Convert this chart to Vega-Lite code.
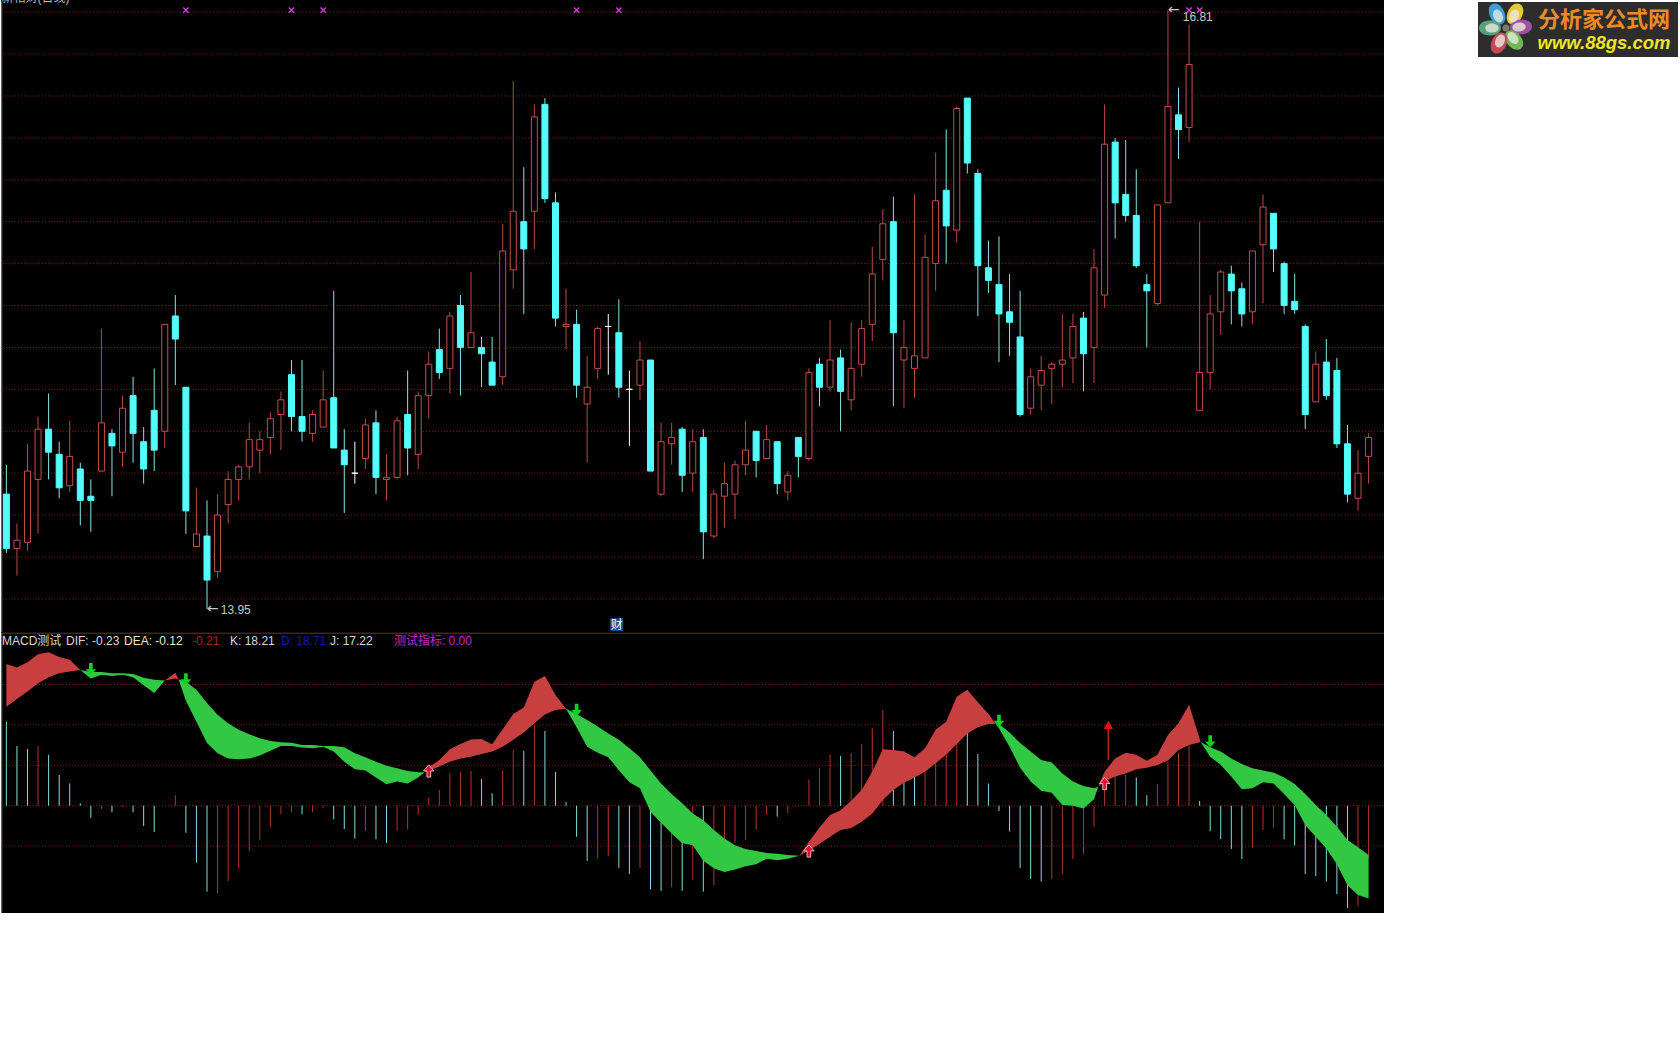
{
"$schema":"https://vega.github.io/schema/vega-lite/v6.json",
"background":"#ffffff","padding":0,"spacing":93,
"config":{"view":{"stroke":null},"text":{"font":"Liberation Sans, Noto Sans CJK SC","fontSize":12}},
"datasets":{
"candles":[
{"i":0,"open":14.5,"high":14.64,"low":14.22,"close":14.24},{"i":1,"open":14.24,"high":14.36,"low":14.11,"close":14.28},{"i":2,"open":14.27,"high":14.74,"low":14.23,"close":14.61},{"i":3,"open":14.57,"high":14.87,"low":14.31,"close":14.81},{"i":4,"open":14.81,"high":14.98,"low":14.57,"close":14.7},{"i":5,"open":14.69,"high":14.75,"low":14.48,"close":14.53},{"i":6,"open":14.54,"high":14.85,"low":14.51,"close":14.68},{"i":7,"open":14.62,"high":14.65,"low":14.35,"close":14.47},{"i":8,"open":14.49,"high":14.57,"low":14.32,"close":14.47},{"i":9,"open":14.61,"high":15.29,"low":14.61,"close":14.84},
{"i":10,"open":14.79,"high":14.81,"low":14.49,"close":14.73},{"i":11,"open":14.7,"high":14.97,"low":14.63,"close":14.91},{"i":12,"open":14.97,"high":15.06,"low":14.65,"close":14.79},{"i":13,"open":14.75,"high":14.82,"low":14.55,"close":14.62},{"i":14,"open":14.9,"high":15.1,"low":14.61,"close":14.71},{"i":15,"open":14.8,"high":15.31,"low":14.72,"close":15.31},{"i":16,"open":15.35,"high":15.45,"low":15.02,"close":15.24},{"i":17,"open":15.01,"high":15.01,"low":14.31,"close":14.42},{"i":18,"open":14.25,"high":14.53,"low":14.25,"close":14.31},{"i":19,"open":14.3,"high":14.47,"low":13.95,"close":14.09},
{"i":20,"open":14.13,"high":14.5,"low":14.1,"close":14.4},{"i":21,"open":14.45,"high":14.61,"low":14.36,"close":14.57},{"i":22,"open":14.57,"high":14.64,"low":14.47,"close":14.63},{"i":23,"open":14.63,"high":14.84,"low":14.57,"close":14.76},{"i":24,"open":14.71,"high":14.8,"low":14.6,"close":14.76},{"i":25,"open":14.77,"high":14.89,"low":14.69,"close":14.86},{"i":26,"open":14.88,"high":14.99,"low":14.71,"close":14.95},{"i":27,"open":15.07,"high":15.14,"low":14.8,"close":14.87},{"i":28,"open":14.87,"high":15.14,"low":14.75,"close":14.8},{"i":29,"open":14.79,"high":14.9,"low":14.75,"close":14.88},
{"i":30,"open":14.82,"high":15.09,"low":14.82,"close":14.95},{"i":31,"open":14.96,"high":15.47,"low":14.72,"close":14.72},{"i":32,"open":14.71,"high":14.81,"low":14.41,"close":14.64},{"i":33,"open":14.6,"high":14.75,"low":14.55,"close":14.6},{"i":34,"open":14.67,"high":14.86,"low":14.62,"close":14.83},{"i":35,"open":14.84,"high":14.9,"low":14.5,"close":14.58},{"i":36,"open":14.57,"high":14.69,"low":14.47,"close":14.58},{"i":37,"open":14.58,"high":14.87,"low":14.57,"close":14.85},{"i":38,"open":14.88,"high":15.09,"low":14.59,"close":14.72},{"i":39,"open":14.69,"high":14.99,"low":14.62,"close":14.97},
{"i":40,"open":14.97,"high":15.18,"low":14.86,"close":15.12},{"i":41,"open":15.19,"high":15.29,"low":15.05,"close":15.08},{"i":42,"open":15.1,"high":15.37,"low":14.98,"close":15.35},{"i":43,"open":15.4,"high":15.45,"low":14.97,"close":15.2},{"i":44,"open":15.2,"high":15.56,"low":15.2,"close":15.27},{"i":45,"open":15.2,"high":15.25,"low":15.01,"close":15.17},{"i":46,"open":15.13,"high":15.25,"low":15.02,"close":15.02},{"i":47,"open":15.06,"high":15.79,"low":15.02,"close":15.66},{"i":48,"open":15.57,"high":16.47,"low":15.48,"close":15.85},{"i":49,"open":15.8,"high":16.06,"low":15.36,"close":15.67},
{"i":50,"open":15.85,"high":16.36,"low":15.67,"close":16.3},{"i":51,"open":16.36,"high":16.39,"low":15.89,"close":15.91},{"i":52,"open":15.89,"high":15.94,"low":15.3,"close":15.34},{"i":53,"open":15.3,"high":15.48,"low":15.19,"close":15.31},{"i":54,"open":15.31,"high":15.38,"low":14.96,"close":15.02},{"i":55,"open":14.93,"high":15.16,"low":14.65,"close":15.01},{"i":56,"open":15.1,"high":15.3,"low":15.05,"close":15.29},{"i":57,"open":15.3,"high":15.36,"low":15.07,"close":15.3},{"i":58,"open":15.27,"high":15.43,"low":14.96,"close":15.01},{"i":59,"open":15,"high":15.09,"low":14.73,"close":15},
{"i":60,"open":15.02,"high":15.23,"low":14.95,"close":15.14},{"i":61,"open":15.14,"high":15.14,"low":14.61,"close":14.61},{"i":62,"open":14.5,"high":14.84,"low":14.49,"close":14.75},{"i":63,"open":14.74,"high":14.84,"low":14.64,"close":14.77},{"i":64,"open":14.81,"high":14.82,"low":14.51,"close":14.59},{"i":65,"open":14.6,"high":14.81,"low":14.51,"close":14.75},{"i":66,"open":14.77,"high":14.81,"low":14.19,"close":14.32},{"i":67,"open":14.3,"high":14.52,"low":14.29,"close":14.5},{"i":68,"open":14.49,"high":14.65,"low":14.34,"close":14.55},{"i":69,"open":14.5,"high":14.66,"low":14.38,"close":14.64},
{"i":70,"open":14.64,"high":14.85,"low":14.59,"close":14.71},{"i":71,"open":14.8,"high":14.8,"low":14.58,"close":14.66},{"i":72,"open":14.67,"high":14.83,"low":14.67,"close":14.76},{"i":73,"open":14.75,"high":14.75,"low":14.5,"close":14.55},{"i":74,"open":14.51,"high":14.61,"low":14.47,"close":14.59},{"i":75,"open":14.77,"high":14.77,"low":14.58,"close":14.68},{"i":76,"open":14.67,"high":15.1,"low":14.66,"close":15.08},{"i":77,"open":15.12,"high":15.15,"low":14.92,"close":15.01},{"i":78,"open":15.01,"high":15.33,"low":14.99,"close":15.14},{"i":79,"open":15.15,"high":15.19,"low":14.8,"close":14.99},
{"i":80,"open":14.95,"high":15.32,"low":14.9,"close":15.1},{"i":81,"open":15.12,"high":15.33,"low":15.06,"close":15.29},{"i":82,"open":15.31,"high":15.68,"low":15.23,"close":15.55},{"i":83,"open":15.62,"high":15.86,"low":15.52,"close":15.79},{"i":84,"open":15.8,"high":15.92,"low":14.92,"close":15.27},{"i":85,"open":15.14,"high":15.33,"low":14.91,"close":15.2},{"i":86,"open":15.1,"high":15.93,"low":14.96,"close":15.16},{"i":87,"open":15.15,"high":15.74,"low":15.15,"close":15.63},{"i":88,"open":15.6,"high":16.13,"low":15.47,"close":15.9},{"i":89,"open":15.95,"high":16.24,"low":15.6,"close":15.78},
{"i":90,"open":15.76,"high":16.35,"low":15.7,"close":16.34},{"i":91,"open":16.39,"high":16.39,"low":16.03,"close":16.08},{"i":92,"open":16.03,"high":16.05,"low":15.35,"close":15.59},{"i":93,"open":15.58,"high":15.71,"low":15.46,"close":15.52},{"i":94,"open":15.5,"high":15.73,"low":15.13,"close":15.36},{"i":95,"open":15.37,"high":15.55,"low":15.16,"close":15.32},{"i":96,"open":15.25,"high":15.47,"low":14.87,"close":14.88},{"i":97,"open":14.91,"high":15.1,"low":14.88,"close":15.06},{"i":98,"open":15.02,"high":15.16,"low":14.9,"close":15.09},{"i":99,"open":15.1,"high":15.13,"low":14.93,"close":15.12},
{"i":100,"open":15.12,"high":15.36,"low":15.01,"close":15.14},{"i":101,"open":15.15,"high":15.36,"low":15.03,"close":15.3},{"i":102,"open":15.34,"high":15.37,"low":14.99,"close":15.17},{"i":103,"open":15.2,"high":15.67,"low":15.03,"close":15.58},{"i":104,"open":15.45,"high":16.36,"low":15.39,"close":16.17},{"i":105,"open":16.18,"high":16.2,"low":15.72,"close":15.89},{"i":106,"open":15.93,"high":16.19,"low":15.8,"close":15.83},{"i":107,"open":15.83,"high":16.05,"low":15.58,"close":15.59},{"i":108,"open":15.5,"high":15.55,"low":15.2,"close":15.47},{"i":109,"open":15.41,"high":15.88,"low":15.4,"close":15.88},
{"i":110,"open":15.89,"high":16.81,"low":15.89,"close":16.35},{"i":111,"open":16.31,"high":16.44,"low":16.1,"close":16.24},{"i":112,"open":16.25,"high":16.74,"low":16.18,"close":16.55},{"i":113,"open":14.9,"high":15.8,"low":14.9,"close":15.08},{"i":114,"open":15.08,"high":15.45,"low":15,"close":15.36},{"i":115,"open":15.37,"high":15.57,"low":15.26,"close":15.56},{"i":116,"open":15.55,"high":15.59,"low":15.31,"close":15.47},{"i":117,"open":15.48,"high":15.51,"low":15.3,"close":15.36},{"i":118,"open":15.37,"high":15.66,"low":15.31,"close":15.66},{"i":119,"open":15.69,"high":15.93,"low":15.41,"close":15.87},
{"i":120,"open":15.84,"high":15.84,"low":15.56,"close":15.67},{"i":121,"open":15.6,"high":15.61,"low":15.36,"close":15.4},{"i":122,"open":15.42,"high":15.55,"low":15.36,"close":15.38},{"i":123,"open":15.3,"high":15.31,"low":14.81,"close":14.88},{"i":124,"open":14.94,"high":15.18,"low":14.94,"close":15.12},{"i":125,"open":15.13,"high":15.24,"low":14.95,"close":14.97},{"i":126,"open":15.09,"high":15.15,"low":14.72,"close":14.74},{"i":127,"open":14.74,"high":14.83,"low":14.46,"close":14.5},{"i":128,"open":14.48,"high":14.71,"low":14.42,"close":14.6},{"i":129,"open":14.68,"high":14.79,"low":14.55,"close":14.77}
],
"hist":[
{"i":0,"macd":0.208,"tone":"c"},{"i":1,"macd":0.148,"tone":"c"},{"i":2,"macd":0.14,"tone":"c"},{"i":3,"macd":0.148,"tone":"r"},{"i":4,"macd":0.126,"tone":"c"},{"i":5,"macd":0.076,"tone":"c"},{"i":6,"macd":0.055,"tone":"c"},{"i":7,"macd":0.006,"tone":"c"},{"i":8,"macd":-0.03,"tone":"c"},{"i":9,"macd":-0.008,"tone":"r"},
{"i":10,"macd":-0.016,"tone":"c"},{"i":11,"macd":-0.003,"tone":"r"},{"i":12,"macd":-0.016,"tone":"c"},{"i":13,"macd":-0.05,"tone":"c"},{"i":14,"macd":-0.065,"tone":"c"},{"i":15,"macd":0,"tone":"r"},{"i":16,"macd":0.026,"tone":"r"},{"i":17,"macd":-0.067,"tone":"c"},{"i":18,"macd":-0.141,"tone":"c"},{"i":19,"macd":-0.213,"tone":"c"},
{"i":20,"macd":-0.217,"tone":"r"},{"i":21,"macd":-0.187,"tone":"r"},{"i":22,"macd":-0.155,"tone":"r"},{"i":23,"macd":-0.112,"tone":"r"},{"i":24,"macd":-0.085,"tone":"r"},{"i":25,"macd":-0.052,"tone":"r"},{"i":26,"macd":-0.021,"tone":"r"},{"i":27,"macd":-0.016,"tone":"r"},{"i":28,"macd":-0.021,"tone":"c"},{"i":29,"macd":-0.016,"tone":"r"},
{"i":30,"macd":-0.005,"tone":"r"},{"i":31,"macd":-0.034,"tone":"c"},{"i":32,"macd":-0.058,"tone":"c"},{"i":33,"macd":-0.081,"tone":"c"},{"i":34,"macd":-0.062,"tone":"r"},{"i":35,"macd":-0.083,"tone":"c"},{"i":36,"macd":-0.092,"tone":"c"},{"i":37,"macd":-0.062,"tone":"r"},{"i":38,"macd":-0.059,"tone":"r"},{"i":39,"macd":-0.021,"tone":"r"},
{"i":40,"macd":0.02,"tone":"r"},{"i":41,"macd":0.039,"tone":"r"},{"i":42,"macd":0.08,"tone":"r"},{"i":43,"macd":0.084,"tone":"r"},{"i":44,"macd":0.086,"tone":"r"},{"i":45,"macd":0.066,"tone":"c"},{"i":46,"macd":0.031,"tone":"c"},{"i":47,"macd":0.087,"tone":"r"},{"i":48,"macd":0.138,"tone":"r"},{"i":49,"macd":0.136,"tone":"c"},
{"i":50,"macd":0.199,"tone":"r"},{"i":51,"macd":0.185,"tone":"c"},{"i":52,"macd":0.084,"tone":"c"},{"i":53,"macd":0.009,"tone":"c"},{"i":54,"macd":-0.077,"tone":"c"},{"i":55,"macd":-0.137,"tone":"c"},{"i":56,"macd":-0.131,"tone":"r"},{"i":57,"macd":-0.124,"tone":"r"},{"i":58,"macd":-0.154,"tone":"c"},{"i":59,"macd":-0.169,"tone":"c"},
{"i":60,"macd":-0.154,"tone":"r"},{"i":61,"macd":-0.207,"tone":"c"},{"i":62,"macd":-0.211,"tone":"c"},{"i":63,"macd":-0.202,"tone":"r"},{"i":64,"macd":-0.211,"tone":"c"},{"i":65,"macd":-0.184,"tone":"r"},{"i":66,"macd":-0.213,"tone":"c"},{"i":67,"macd":-0.197,"tone":"r"},{"i":68,"macd":-0.11,"tone":"r"},{"i":69,"macd":-0.092,"tone":"r"},
{"i":70,"macd":-0.085,"tone":"r"},{"i":71,"macd":-0.059,"tone":"r"},{"i":72,"macd":-0.023,"tone":"r"},{"i":73,"macd":-0.027,"tone":"c"},{"i":74,"macd":-0.019,"tone":"r"},{"i":75,"macd":-0.002,"tone":"r"},{"i":76,"macd":0.065,"tone":"r"},{"i":77,"macd":0.093,"tone":"r"},{"i":78,"macd":0.127,"tone":"r"},{"i":79,"macd":0.123,"tone":"c"},
{"i":80,"macd":0.131,"tone":"r"},{"i":81,"macd":0.153,"tone":"r"},{"i":82,"macd":0.192,"tone":"r"},{"i":83,"macd":0.237,"tone":"r"},{"i":84,"macd":0.185,"tone":"c"},{"i":85,"macd":0.134,"tone":"c"},{"i":86,"macd":0.09,"tone":"c"},{"i":87,"macd":0.09,"tone":"r"},{"i":88,"macd":0.12,"tone":"r"},{"i":89,"macd":0.126,"tone":"r"},
{"i":90,"macd":0.155,"tone":"r"},{"i":91,"macd":0.181,"tone":"c"},{"i":92,"macd":0.128,"tone":"c"},{"i":93,"macd":0.055,"tone":"c"},{"i":94,"macd":-0.013,"tone":"c"},{"i":95,"macd":-0.064,"tone":"c"},{"i":96,"macd":-0.154,"tone":"c"},{"i":97,"macd":-0.181,"tone":"c"},{"i":98,"macd":-0.188,"tone":"c"},{"i":99,"macd":-0.182,"tone":"r"},
{"i":100,"macd":-0.169,"tone":"r"},{"i":101,"macd":-0.132,"tone":"r"},{"i":102,"macd":-0.118,"tone":"r"},{"i":103,"macd":-0.052,"tone":"r"},{"i":104,"macd":0.05,"tone":"r"},{"i":105,"macd":0.08,"tone":"r"},{"i":106,"macd":0.076,"tone":"r"},{"i":107,"macd":0.07,"tone":"c"},{"i":108,"macd":0.026,"tone":"c"},{"i":109,"macd":0.053,"tone":"r"},
{"i":110,"macd":0.109,"tone":"r"},{"i":111,"macd":0.131,"tone":"r"},{"i":112,"macd":0.15,"tone":"r"},{"i":113,"macd":0.012,"tone":"c"},{"i":114,"macd":-0.063,"tone":"c"},{"i":115,"macd":-0.083,"tone":"c"},{"i":116,"macd":-0.107,"tone":"c"},{"i":117,"macd":-0.132,"tone":"c"},{"i":118,"macd":-0.104,"tone":"r"},{"i":119,"macd":-0.06,"tone":"r"},
{"i":120,"macd":-0.054,"tone":"r"},{"i":121,"macd":-0.083,"tone":"c"},{"i":122,"macd":-0.099,"tone":"c"},{"i":123,"macd":-0.169,"tone":"c"},{"i":124,"macd":-0.174,"tone":"c"},{"i":125,"macd":-0.188,"tone":"c"},{"i":126,"macd":-0.219,"tone":"c"},{"i":127,"macd":-0.253,"tone":"c"},{"i":128,"macd":-0.249,"tone":"r"},{"i":129,"macd":-0.13,"tone":"r"}
],
"band":[
{"seg":1,"sign":"up","i":0,"dif":0.351,"dea":0.245},{"seg":1,"sign":"up","i":1,"dif":0.342,"dea":0.264},{"seg":1,"sign":"up","i":2,"dif":0.355,"dea":0.283},{"seg":1,"sign":"up","i":3,"dif":0.375,"dea":0.303},{"seg":1,"sign":"up","i":4,"dif":0.38,"dea":0.318},{"seg":1,"sign":"up","i":5,"dif":0.368,"dea":0.328},{"seg":1,"sign":"up","i":6,"dif":0.361,"dea":0.332},{"seg":1,"sign":"up","i":7,"dif":0.336,"dea":0.336},
{"seg":2,"sign":"down","i":7,"dif":0.336,"dea":0.336},{"seg":2,"sign":"down","i":8,"dif":0.315,"dea":0.331},{"seg":2,"sign":"down","i":9,"dif":0.324,"dea":0.331},{"seg":2,"sign":"down","i":10,"dif":0.321,"dea":0.328},{"seg":2,"sign":"down","i":11,"dif":0.324,"dea":0.328},{"seg":2,"sign":"down","i":12,"dif":0.318,"dea":0.326},{"seg":2,"sign":"down","i":13,"dif":0.298,"dea":0.317},{"seg":2,"sign":"down","i":14,"dif":0.279,"dea":0.312},{"seg":2,"sign":"down","i":15,"dif":0.31,"dea":0.31},
{"seg":3,"sign":"up","i":15,"dif":0.31,"dea":0.31},{"seg":3,"sign":"up","i":16,"dif":0.329,"dea":0.315},{"seg":3,"sign":"up","i":16.3,"dif":0.313,"dea":0.313},
{"seg":4,"sign":"down","i":16.3,"dif":0.313,"dea":0.313},{"seg":4,"sign":"down","i":17,"dif":0.26,"dea":0.307},{"seg":4,"sign":"down","i":18,"dif":0.208,"dea":0.287},{"seg":4,"sign":"down","i":19,"dif":0.155,"dea":0.254},{"seg":4,"sign":"down","i":20,"dif":0.13,"dea":0.225},{"seg":4,"sign":"down","i":21,"dif":0.117,"dea":0.204},{"seg":4,"sign":"down","i":22,"dif":0.115,"dea":0.188},{"seg":4,"sign":"down","i":23,"dif":0.117,"dea":0.177},{"seg":4,"sign":"down","i":24,"dif":0.124,"dea":0.167},{"seg":4,"sign":"down","i":25,"dif":0.136,"dea":0.16},{"seg":4,"sign":"down","i":26,"dif":0.148,"dea":0.157},{"seg":4,"sign":"down","i":27,"dif":0.148,"dea":0.156},{"seg":4,"sign":"down","i":28,"dif":0.144,"dea":0.15},{"seg":4,"sign":"down","i":29,"dif":0.142,"dea":0.15},{"seg":4,"sign":"down","i":30,"dif":0.146,"dea":0.148},{"seg":4,"sign":"down","i":31,"dif":0.134,"dea":0.148},{"seg":4,"sign":"down","i":32,"dif":0.109,"dea":0.145},{"seg":4,"sign":"down","i":33,"dif":0.09,"dea":0.13},{"seg":4,"sign":"down","i":34,"dif":0.087,"dea":0.12},{"seg":4,"sign":"down","i":35,"dif":0.07,"dea":0.109},{"seg":4,"sign":"down","i":36,"dif":0.053,"dea":0.099},{"seg":4,"sign":"down","i":37,"dif":0.06,"dea":0.093},{"seg":4,"sign":"down","i":38,"dif":0.055,"dea":0.086},{"seg":4,"sign":"down","i":39,"dif":0.07,"dea":0.083},{"seg":4,"sign":"down","i":39.6,"dif":0.083,"dea":0.083},
{"seg":5,"sign":"up","i":39.6,"dif":0.083,"dea":0.083},{"seg":5,"sign":"up","i":40,"dif":0.095,"dea":0.087},{"seg":5,"sign":"up","i":41,"dif":0.113,"dea":0.097},{"seg":5,"sign":"up","i":42,"dif":0.14,"dea":0.109},{"seg":5,"sign":"up","i":43,"dif":0.153,"dea":0.117},{"seg":5,"sign":"up","i":44,"dif":0.164,"dea":0.121},{"seg":5,"sign":"up","i":45,"dif":0.165,"dea":0.128},{"seg":5,"sign":"up","i":46,"dif":0.152,"dea":0.134},{"seg":5,"sign":"up","i":47,"dif":0.189,"dea":0.146},{"seg":5,"sign":"up","i":48,"dif":0.227,"dea":0.163},{"seg":5,"sign":"up","i":49,"dif":0.243,"dea":0.181},{"seg":5,"sign":"up","i":50,"dif":0.307,"dea":0.204},{"seg":5,"sign":"up","i":51,"dif":0.321,"dea":0.226},{"seg":5,"sign":"up","i":52,"dif":0.274,"dea":0.237},{"seg":5,"sign":"up","i":53,"dif":0.24,"dea":0.24},
{"seg":6,"sign":"down","i":53,"dif":0.24,"dea":0.24},{"seg":6,"sign":"down","i":54,"dif":0.194,"dea":0.227},{"seg":6,"sign":"down","i":55,"dif":0.146,"dea":0.212},{"seg":6,"sign":"down","i":56,"dif":0.131,"dea":0.196},{"seg":6,"sign":"down","i":57,"dif":0.12,"dea":0.179},{"seg":6,"sign":"down","i":58,"dif":0.088,"dea":0.163},{"seg":6,"sign":"down","i":59,"dif":0.058,"dea":0.142},{"seg":6,"sign":"down","i":60,"dif":0.043,"dea":0.12},{"seg":6,"sign":"down","i":61,"dif":-0.015,"dea":0.087},{"seg":6,"sign":"down","i":62,"dif":-0.042,"dea":0.055},{"seg":6,"sign":"down","i":63,"dif":-0.069,"dea":0.029},{"seg":6,"sign":"down","i":64,"dif":-0.093,"dea":0.006},{"seg":6,"sign":"down","i":65,"dif":-0.098,"dea":-0.019},{"seg":6,"sign":"down","i":66,"dif":-0.136,"dea":-0.036},{"seg":6,"sign":"down","i":67,"dif":-0.155,"dea":-0.06},{"seg":6,"sign":"down","i":68,"dif":-0.164,"dea":-0.081},{"seg":6,"sign":"down","i":69,"dif":-0.158,"dea":-0.098},{"seg":6,"sign":"down","i":70,"dif":-0.15,"dea":-0.107},{"seg":6,"sign":"down","i":71,"dif":-0.145,"dea":-0.112},{"seg":6,"sign":"down","i":72,"dif":-0.131,"dea":-0.117},{"seg":6,"sign":"down","i":73,"dif":-0.135,"dea":-0.119},{"seg":6,"sign":"down","i":74,"dif":-0.131,"dea":-0.122},{"seg":6,"sign":"down","i":75.1,"dif":-0.124,"dea":-0.124},
{"seg":7,"sign":"up","i":75.1,"dif":-0.124,"dea":-0.124},{"seg":7,"sign":"up","i":76,"dif":-0.089,"dea":-0.11},{"seg":7,"sign":"up","i":77,"dif":-0.054,"dea":-0.095},{"seg":7,"sign":"up","i":78,"dif":-0.023,"dea":-0.077},{"seg":7,"sign":"up","i":79,"dif":-0.011,"dea":-0.06},{"seg":7,"sign":"up","i":80,"dif":0.012,"dea":-0.055},{"seg":7,"sign":"up","i":81,"dif":0.039,"dea":-0.04},{"seg":7,"sign":"up","i":82,"dif":0.084,"dea":-0.019},{"seg":7,"sign":"up","i":83,"dif":0.14,"dea":0.014},{"seg":7,"sign":"up","i":84,"dif":0.138,"dea":0.039},{"seg":7,"sign":"up","i":85,"dif":0.134,"dea":0.057},{"seg":7,"sign":"up","i":86,"dif":0.12,"dea":0.07},{"seg":7,"sign":"up","i":87,"dif":0.142,"dea":0.084},{"seg":7,"sign":"up","i":88,"dif":0.188,"dea":0.105},{"seg":7,"sign":"up","i":89,"dif":0.208,"dea":0.126},{"seg":7,"sign":"up","i":90,"dif":0.27,"dea":0.153},{"seg":7,"sign":"up","i":91,"dif":0.287,"dea":0.179},{"seg":7,"sign":"up","i":92,"dif":0.256,"dea":0.194},{"seg":7,"sign":"up","i":93,"dif":0.227,"dea":0.202},{"seg":7,"sign":"up","i":93.7,"dif":0.202,"dea":0.202},
{"seg":8,"sign":"down","i":93.7,"dif":0.202,"dea":0.202},{"seg":8,"sign":"down","i":94,"dif":0.192,"dea":0.202},{"seg":8,"sign":"down","i":95,"dif":0.146,"dea":0.181},{"seg":8,"sign":"down","i":96,"dif":0.094,"dea":0.155},{"seg":8,"sign":"down","i":97,"dif":0.06,"dea":0.134},{"seg":8,"sign":"down","i":98,"dif":0.037,"dea":0.113},{"seg":8,"sign":"down","i":99,"dif":0.032,"dea":0.107},{"seg":8,"sign":"down","i":100,"dif":0.002,"dea":0.08},{"seg":8,"sign":"down","i":101,"dif":0,"dea":0.06},{"seg":8,"sign":"down","i":102,"dif":-0.007,"dea":0.049},{"seg":8,"sign":"down","i":103,"dif":0.016,"dea":0.043},{"seg":8,"sign":"down","i":103.4,"dif":0.047,"dea":0.047},
{"seg":9,"sign":"up","i":103.4,"dif":0.047,"dea":0.047},{"seg":9,"sign":"up","i":104,"dif":0.084,"dea":0.06},{"seg":9,"sign":"up","i":105,"dif":0.117,"dea":0.072},{"seg":9,"sign":"up","i":106,"dif":0.131,"dea":0.08},{"seg":9,"sign":"up","i":107,"dif":0.126,"dea":0.09},{"seg":9,"sign":"up","i":108,"dif":0.111,"dea":0.094},{"seg":9,"sign":"up","i":109,"dif":0.126,"dea":0.101},{"seg":9,"sign":"up","i":110,"dif":0.175,"dea":0.112},{"seg":9,"sign":"up","i":111,"dif":0.204,"dea":0.138},{"seg":9,"sign":"up","i":112,"dif":0.25,"dea":0.15},{"seg":9,"sign":"up","i":113.1,"dif":0.158,"dea":0.158},
{"seg":10,"sign":"down","i":113.1,"dif":0.158,"dea":0.158},{"seg":10,"sign":"down","i":114,"dif":0.121,"dea":0.145},{"seg":10,"sign":"down","i":115,"dif":0.101,"dea":0.134},{"seg":10,"sign":"down","i":116,"dif":0.072,"dea":0.117},{"seg":10,"sign":"down","i":117,"dif":0.041,"dea":0.103},{"seg":10,"sign":"down","i":118,"dif":0.043,"dea":0.093},{"seg":10,"sign":"down","i":119,"dif":0.058,"dea":0.087},{"seg":10,"sign":"down","i":120,"dif":0.055,"dea":0.082},{"seg":10,"sign":"down","i":121,"dif":0.029,"dea":0.07},{"seg":10,"sign":"down","i":122,"dif":0.002,"dea":0.054},{"seg":10,"sign":"down","i":123,"dif":-0.048,"dea":0.029},{"seg":10,"sign":"down","i":124,"dif":-0.077,"dea":0.002},{"seg":10,"sign":"down","i":125,"dif":-0.106,"dea":-0.023},{"seg":10,"sign":"down","i":126,"dif":-0.145,"dea":-0.052},{"seg":10,"sign":"down","i":127,"dif":-0.197,"dea":-0.085},{"seg":10,"sign":"down","i":128,"dif":-0.221,"dea":-0.103},{"seg":10,"sign":"down","i":129,"dif":-0.23,"dea":-0.122}
]
},
"hconcat":[
{"vconcat":[
{"width":1383,"height":632,"view":{"fill":"#000000","stroke":null},
"layer":[
{"data":{"values":[{"price":14},{"price":14.2},{"price":14.4},{"price":14.6},{"price":14.8},{"price":15},{"price":15.2},{"price":15.4},{"price":15.6},{"price":15.8},{"price":16},{"price":16.2},{"price":16.4},{"price":16.6},{"price":16.8}]},
"mark":{"type":"rule","stroke":"#741c1c","strokeWidth":1,"strokeDash":[1,2]},
"encoding":{
"y":{"field":"price","type":"quantitative","scale":{"domain":[13.842,16.858],"nice":false,"zero":false},"axis":null}}},
{"data":{"name":"candles"},"mark":{"type":"rule","strokeWidth":1},
"encoding":{
"x":{"field":"i","type":"quantitative","scale":{"domain":[-0.508,130.46],"nice":false,"zero":false,"padding":0},"axis":null},
"y":{"field":"high","type":"quantitative","scale":{"domain":[13.842,16.858],"nice":false,"zero":false},"axis":null},
"y2":{"field":"low"},
"stroke":{"condition":[{"test":"datum.close>datum.open","value":"#b84848"},{"test":"datum.close==datum.open","value":"#ffffff"}],"value":"#8ae4e4"}}},
{"data":{"name":"candles"},"mark":{"type":"bar","size":6,"strokeWidth":1,"orient":"vertical"},
"encoding":{
"x":{"field":"i","type":"quantitative","scale":{"domain":[-0.508,130.46],"nice":false,"zero":false,"padding":0},"axis":null},
"y":{"field":"open","type":"quantitative","scale":{"domain":[13.842,16.858],"nice":false,"zero":false},"axis":null},
"y2":{"field":"close"},
"fill":{"condition":[{"test":"datum.close>datum.open","value":"#000000"},{"test":"datum.close==datum.open","value":"#ffffff"}],"value":"#54fcfc"},
"stroke":{"condition":[{"test":"datum.close>datum.open","value":"#c84c4c"},{"test":"datum.close==datum.open","value":"#ffffff"}],"value":"#54fcfc"}}},
{"data":{"values":[{"i":17,"price":16.81},{"i":27,"price":16.81},{"i":30,"price":16.81},{"i":54,"price":16.81},{"i":58,"price":16.81},{"i":112,"price":16.81},{"i":113,"price":16.81}]},
"mark":{"type":"point","shape":"M-1,-1L1,1M1,-1L-1,1","size":28,"stroke":"#d038d0","strokeWidth":1.5,"filled":false,"opacity":1},
"encoding":{
"x":{"field":"i","type":"quantitative","scale":{"domain":[-0.508,130.46],"nice":false,"zero":false,"padding":0},"axis":null},
"y":{"field":"price","type":"quantitative","scale":{"domain":[13.842,16.858],"nice":false,"zero":false},"axis":null}}},
{"data":{"values":[{"i":57.8,"price":13.877}]},
"mark":{"type":"point","shape":"square","size":170,"filled":true,"fill":"#1c4a86","opacity":1},
"encoding":{
"x":{"field":"i","type":"quantitative","scale":{"domain":[-0.508,130.46],"nice":false,"zero":false,"padding":0},"axis":null},
"y":{"field":"price","type":"quantitative","scale":{"domain":[13.842,16.858],"nice":false,"zero":false},"axis":null}}},
{"data":{"values":[{"i":19,"price":13.95,"label":"←"},{"i":110,"price":16.81,"label":"←"}]},
"mark":{"type":"text","align":"left","baseline":"middle","color":"#c8c8c8","font":"DejaVu Sans","fontSize":14},
"encoding":{
"x":{"field":"i","type":"quantitative","scale":{"domain":[-0.508,130.46],"nice":false,"zero":false,"padding":0},"axis":null},
"y":{"field":"price","type":"quantitative","scale":{"domain":[13.842,16.858],"nice":false,"zero":false},"axis":null},
"text":{"field":"label"}}},
{"data":{"values":[{"i":20.3,"price":13.945,"label":"13.95"},{"i":111.4,"price":16.775,"label":"16.81"}]},
"mark":{"type":"text","align":"left","baseline":"middle","color":"#c8c8c8"},
"encoding":{
"x":{"field":"i","type":"quantitative","scale":{"domain":[-0.508,130.46],"nice":false,"zero":false,"padding":0},"axis":null},
"y":{"field":"price","type":"quantitative","scale":{"domain":[13.842,16.858],"nice":false,"zero":false},"axis":null},
"text":{"field":"label"}}},
{"data":{"values":[{"i":57.8,"price":13.877,"label":"财"}]},
"mark":{"type":"text","align":"center","baseline":"middle","color":"#ffffff"},
"encoding":{
"x":{"field":"i","type":"quantitative","scale":{"domain":[-0.508,130.46],"nice":false,"zero":false,"padding":0},"axis":null},
"y":{"field":"price","type":"quantitative","scale":{"domain":[13.842,16.858],"nice":false,"zero":false},"axis":null},
"text":{"field":"label"}}},
{"data":{"values":[{"i":-0.45,"price":16.835,"label":"新相财(日线)"}]},
"mark":{"type":"text","align":"left","baseline":"bottom","color":"#b8b8b8","clip":true},
"encoding":{
"x":{"field":"i","type":"quantitative","scale":{"domain":[-0.508,130.46],"nice":false,"zero":false,"padding":0},"axis":null},
"y":{"field":"price","type":"quantitative","scale":{"domain":[13.842,16.858],"nice":false,"zero":false},"axis":null},
"text":{"field":"label"}}},
{"data":{"values":[{"i":-0.44,"a":13.842,"b":16.85}]},
"mark":{"type":"rule","stroke":"#808080","strokeWidth":1},
"encoding":{
"x":{"field":"i","type":"quantitative","scale":{"domain":[-0.508,130.46],"nice":false,"zero":false,"padding":0},"axis":null},
"y":{"field":"a","type":"quantitative","scale":{"domain":[13.842,16.858],"nice":false,"zero":false},"axis":null},
"y2":{"field":"b"}}}
]},
{"width":1383,"height":281,"view":{"fill":"#000000","stroke":null},
"layer":[
{"data":{"values":[{"macd":-0.1},{"macd":0},{"macd":0.1},{"macd":0.2},{"macd":0.3}]},
"mark":{"type":"rule","stroke":"#741c1c","strokeWidth":1,"strokeDash":[1,2]},
"encoding":{
"y":{"field":"macd","type":"quantitative","scale":{"domain":[-0.2656,0.43],"nice":false,"zero":false},"axis":null}}},
{"data":{"name":"hist"},"mark":{"type":"rule","strokeWidth":1},
"encoding":{
"x":{"field":"i","type":"quantitative","scale":{"domain":[-0.508,130.46],"nice":false,"zero":false,"padding":0},"axis":null},
"y":{"field":"macd","type":"quantitative","scale":{"domain":[-0.2656,0.43],"nice":false,"zero":false},"axis":null},
"y2":{"datum":0},
"stroke":{"field":"tone","type":"nominal","scale":{"domain":["c","r"],"range":["#84dcdc","#b83030"]},"legend":null}}},
{"data":{"name":"band"},"mark":{"type":"area","interpolate":"linear"},
"encoding":{
"x":{"field":"i","type":"quantitative","scale":{"domain":[-0.508,130.46],"nice":false,"zero":false,"padding":0},"axis":null},
"y":{"field":"dif","type":"quantitative","scale":{"domain":[-0.2656,0.43],"nice":false,"zero":false},"axis":null},
"y2":{"field":"dea"},
"detail":{"field":"seg","type":"nominal"},
"fill":{"field":"sign","type":"nominal","scale":{"domain":["up","down"],"range":["#c83f40","#33c843"]},"legend":null}}},
{"data":{"values":[{"i":8,"macd":0.338},{"i":17,"macd":0.313},{"i":54,"macd":0.237},{"i":94,"macd":0.21},{"i":114,"macd":0.159}]},
"mark":{"type":"point","shape":"M-0.3,-1L0.3,-1L0.3,0L0.85,0L0,1L-0.85,0L-0.3,0Z","size":150,"filled":true,"fill":"#10d020","opacity":1},
"encoding":{
"x":{"field":"i","type":"quantitative","scale":{"domain":[-0.508,130.46],"nice":false,"zero":false,"padding":0},"axis":null},
"y":{"field":"macd","type":"quantitative","scale":{"domain":[-0.2656,0.43],"nice":false,"zero":false},"axis":null}}},
{"data":{"values":[{"i":40,"macd":0.086},{"i":76,"macd":-0.112},{"i":104,"macd":0.055}]},
"mark":{"type":"point","shape":"M-0.3,1L0.3,1L0.3,0L0.85,0L0,-1L-0.85,0L-0.3,0Z","size":150,"filled":true,"fill":"#e01030","stroke":"#f0b0b0","strokeWidth":1,"opacity":1},
"encoding":{
"x":{"field":"i","type":"quantitative","scale":{"domain":[-0.508,130.46],"nice":false,"zero":false,"padding":0},"axis":null},
"y":{"field":"macd","type":"quantitative","scale":{"domain":[-0.2656,0.43],"nice":false,"zero":false},"axis":null}}},
{"data":{"values":[{"i":104.35,"a":0.113,"b":0.204}]},
"mark":{"type":"rule","stroke":"#c02020","strokeWidth":1.5},
"encoding":{
"x":{"field":"i","type":"quantitative","scale":{"domain":[-0.508,130.46],"nice":false,"zero":false,"padding":0},"axis":null},
"y":{"field":"a","type":"quantitative","scale":{"domain":[-0.2656,0.43],"nice":false,"zero":false},"axis":null},
"y2":{"field":"b"}}},
{"data":{"values":[{"i":104.35,"macd":0.2}]},
"mark":{"type":"point","shape":"triangle-up","size":90,"filled":true,"fill":"#e01010","opacity":1},
"encoding":{
"x":{"field":"i","type":"quantitative","scale":{"domain":[-0.508,130.46],"nice":false,"zero":false,"padding":0},"axis":null},
"y":{"field":"macd","type":"quantitative","scale":{"domain":[-0.2656,0.43],"nice":false,"zero":false},"axis":null}}},
{"data":{"values":[{"i":-0.508,"i2":130.46,"macd":0.427}]},
"mark":{"type":"rule","stroke":"#8a2525","strokeWidth":1},
"encoding":{
"x":{"field":"i","type":"quantitative","scale":{"domain":[-0.508,130.46],"nice":false,"zero":false,"padding":0},"axis":null},
"x2":{"field":"i2"},
"y":{"field":"macd","type":"quantitative","scale":{"domain":[-0.2656,0.43],"nice":false,"zero":false},"axis":null}}},
{"data":{"values":[{"i":-0.44,"a":-0.2656,"b":0.428}]},
"mark":{"type":"rule","stroke":"#808080","strokeWidth":1},
"encoding":{
"x":{"field":"i","type":"quantitative","scale":{"domain":[-0.508,130.46],"nice":false,"zero":false,"padding":0},"axis":null},
"y":{"field":"a","type":"quantitative","scale":{"domain":[-0.2656,0.43],"nice":false,"zero":false},"axis":null},
"y2":{"field":"b"}}},
{"data":{"values":[
{"i":-0.41,"macd":0.408,"label":"MACD测试","key":"a"},
{"i":5.65,"macd":0.408,"label":"DIF: -0.23","key":"a"},
{"i":11.14,"macd":0.408,"label":"DEA: -0.12","key":"b"},
{"i":17.58,"macd":0.408,"label":"-0.21","key":"c"},
{"i":21.18,"macd":0.408,"label":"K: 18.21","key":"a"},
{"i":26,"macd":0.408,"label":"D: 18.71","key":"d"},
{"i":30.65,"macd":0.408,"label":"J: 17.22","key":"a"},
{"i":36.7,"macd":0.408,"label":"测试指标: 0.00","key":"e"}]},
"mark":{"type":"text","align":"left","baseline":"middle"},
"encoding":{
"x":{"field":"i","type":"quantitative","scale":{"domain":[-0.508,130.46],"nice":false,"zero":false,"padding":0},"axis":null},
"y":{"field":"macd","type":"quantitative","scale":{"domain":[-0.2656,0.43],"nice":false,"zero":false},"axis":null},
"text":{"field":"label"},
"color":{"field":"key","type":"nominal","scale":{"domain":["a","b","c","d","e"],"range":["#d8d8d8","#e8e8c0","#a02424","#1818a8","#c028d0"]},"legend":null}}}
],"resolve":{"scale":{"color":"independent","stroke":"independent"}}}
],"spacing":0,"bounds":"flush"},
{"width":200,"height":57,"view":{"fill":null,"stroke":null},
"layer":[
{"data":{"values":[{"a":0,"b":200,"c":2,"d":57}]},"mark":{"type":"rect","fill":"#2d2d2d"},
"encoding":{
"x":{"field":"a","type":"quantitative","scale":{"domain":[0,200],"nice":false},"axis":null},"x2":{"field":"b"},
"y":{"field":"c","type":"quantitative","scale":{"domain":[57,0],"nice":false,"zero":false},"axis":null},"y2":{"field":"d"}}},
{"data":{"values":[{"a":19,"b":14,"p":"blue","rot":-25},{"a":37,"b":14,"p":"yellow","rot":25},{"a":43,"b":27,"p":"purple","rot":85},{"a":36,"b":40,"p":"green","rot":140},{"a":21,"b":43,"p":"red","rot":205},{"a":12,"b":28,"p":"teal","rot":270}]},
"mark":{"type":"point","shape":"M0,-1C0.9,-1 0.9,1 0,1C-0.9,1 -0.9,-1 0,-1Z","filled":true,"size":484,"opacity":1},
"encoding":{
"x":{"field":"a","type":"quantitative","scale":{"domain":[0,200],"nice":false},"axis":null},
"y":{"field":"b","type":"quantitative","scale":{"domain":[57,0],"nice":false,"zero":false},"axis":null},
"angle":{"field":"rot","type":"quantitative","scale":null},
"fill":{"field":"p","type":"nominal","scale":{"domain":["blue","yellow","purple","green","red","teal"],"range":["#3aa0d8","#e8c838","#a050a0","#70b850","#c84858","#58a078"]},"legend":null}}},
{"data":{"values":[{"a":20,"b":16,"rot":-25},{"a":36,"b":16,"rot":25},{"a":41,"b":27,"rot":85},{"a":35,"b":38,"rot":140},{"a":22,"b":41,"rot":205},{"a":14,"b":28,"rot":270}]},
"mark":{"type":"point","shape":"M0,-1C0.9,-1 0.9,1 0,1C-0.9,1 -0.9,-1 0,-1Z","filled":true,"size":180,"fill":"#e8e8e0","opacity":0.8},
"encoding":{
"x":{"field":"a","type":"quantitative","scale":{"domain":[0,200],"nice":false},"axis":null},
"y":{"field":"b","type":"quantitative","scale":{"domain":[57,0],"nice":false,"zero":false},"axis":null},
"angle":{"field":"rot","type":"quantitative","scale":null}}},
{"data":{"values":[{"a":28,"b":28}]},
"mark":{"type":"point","shape":"circle","filled":true,"size":50,"fill":"#807868","opacity":1},
"encoding":{
"x":{"field":"a","type":"quantitative","scale":{"domain":[0,200],"nice":false},"axis":null},
"y":{"field":"b","type":"quantitative","scale":{"domain":[57,0],"nice":false,"zero":false},"axis":null}}},
{"data":{"values":[{"a":126,"b":20,"t":"分析家公式网"}]},
"mark":{"type":"text","align":"center","baseline":"middle","fontSize":22,"fontWeight":"bold","color":"#ee8a24","font":"Noto Sans CJK SC"},
"encoding":{
"x":{"field":"a","type":"quantitative","scale":{"domain":[0,200],"nice":false},"axis":null},
"y":{"field":"b","type":"quantitative","scale":{"domain":[57,0],"nice":false,"zero":false},"axis":null},
"text":{"field":"t"}}},
{"data":{"values":[{"a":126,"b":43,"t":"www.88gs.com"}]},
"mark":{"type":"text","align":"center","baseline":"middle","fontSize":18.5,"fontWeight":"bold","fontStyle":"italic","color":"#f0e428","font":"Liberation Sans"},
"encoding":{
"x":{"field":"a","type":"quantitative","scale":{"domain":[0,200],"nice":false},"axis":null},
"y":{"field":"b","type":"quantitative","scale":{"domain":[57,0],"nice":false,"zero":false},"axis":null},
"text":{"field":"t"}}}
],"resolve":{"scale":{"fill":"independent"}}}
]
}
